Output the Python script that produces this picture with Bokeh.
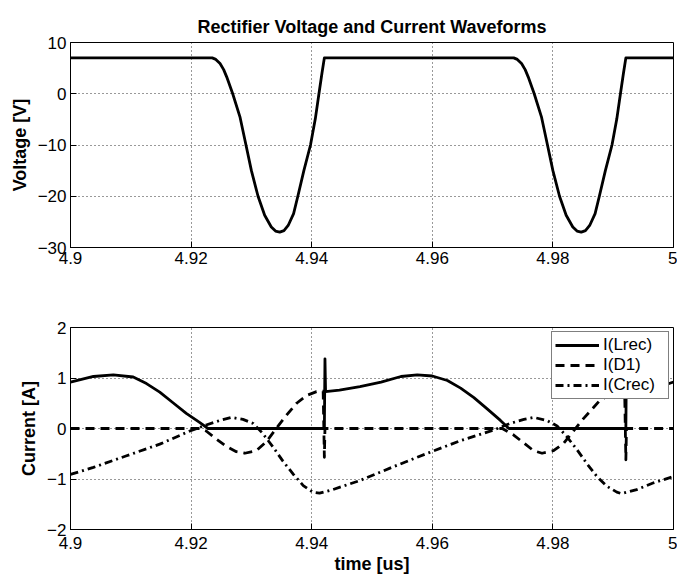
from bokeh.plotting import figure
from bokeh.layouts import column
from bokeh.models import Range1d, FixedTicker
from bokeh.embed import file_html
from bokeh.resources import INLINE

# ---------------- data ----------------
x_ticks = [4.9, 4.92, 4.94, 4.96, 4.98, 5.0]
x_tick_labels = ["4.9", "4.92", "4.94", "4.96", "4.98", "5"]
v_ticks = [-30, -20, -10, 0, 10]
v_tick_labels = ["\u221230", "\u221220", "\u221210", "0", "10"]
i_ticks = [-2, -1, 0, 1, 2]
i_tick_labels = ["\u22122", "\u22121", "0", "1", "2"]

volt_t = [4.9, 4.9235, 4.9241, 4.9248, 4.9254, 4.9259, 4.9269, 4.9281, 4.9291, 4.9300,
          4.9311, 4.9322, 4.9333, 4.9340, 4.9347, 4.9354, 4.9361, 4.9370, 4.9377, 4.9387,
          4.9398, 4.9406, 4.9412, 4.9417, 4.9421,
          4.9735, 4.9741, 4.9748, 4.9754, 4.9759, 4.9769, 4.9781, 4.9791, 4.9800,
          4.9811, 4.9822, 4.9833, 4.9840, 4.9847, 4.9854, 4.9861, 4.9870, 4.9877, 4.9887,
          4.9898, 4.9906, 4.9912, 4.9917, 4.9921, 5.0]
volt_v = [7.0, 7.0, 6.7, 5.9, 4.7, 3.3, 0.0, -4.5, -10.0, -15.0,
          -20.0, -23.7, -26.0, -26.8, -27.0, -26.7, -25.7, -23.4, -20.0, -15.0,
          -10.0, -4.9, 0.0, 4.0, 7.0,
          7.0, 6.7, 5.9, 4.7, 3.3, 0.0, -4.5, -10.0, -15.0,
          -20.0, -23.7, -26.0, -26.8, -27.0, -26.7, -25.7, -23.4, -20.0, -15.0,
          -10.0, -4.9, 0.0, 4.0, 7.0, 7.0]

lrec_t = [4.9, 4.9038, 4.9071, 4.9104, 4.9126, 4.9148, 4.917, 4.9192, 4.9214, 4.9228,
          4.9421, 4.9422, 4.9423, 4.9446, 4.948, 4.9515, 4.9548, 4.9575, 4.96, 4.9625,
          4.9647, 4.9669, 4.9691, 4.9713, 4.9727, 4.9921, 4.9922, 4.9923, 4.9946, 4.998, 5.0]
lrec_i = [0.92, 1.03, 1.06, 1.02, 0.89, 0.72, 0.51, 0.30, 0.12, 0.0,
          0.0, 1.38, 0.73, 0.76, 0.83, 0.92, 1.03, 1.06, 1.04, 0.95,
          0.80, 0.61, 0.39, 0.16, 0.0, 0.0, 1.38, 0.73, 0.76, 0.84, 0.92]

d1_t = [4.9, 4.9214, 4.9225, 4.9242, 4.9259, 4.9275, 4.9289, 4.9308, 4.9325, 4.9341,
        4.9358, 4.9375, 4.9391, 4.9408, 4.9419, 4.9421, 4.9422, 4.9716, 4.9735, 4.9752,
        4.9768, 4.9782, 4.9801, 4.9818, 4.9834, 4.9851, 4.9867, 4.9878, 4.9895, 4.9908,
        4.9919, 4.9921, 4.9922, 5.0]
d1_i = [0.0, 0.0, -0.05, -0.21, -0.36, -0.46, -0.49, -0.44, -0.26, 0.0,
        0.26, 0.50, 0.65, 0.73, 0.74, -0.57, 0.0, 0.0, -0.13, -0.29,
        -0.44, -0.49, -0.44, -0.29, -0.05, 0.20, 0.41, 0.56, 0.66, 0.72,
        0.74, -0.62, 0.0, 0.0]

crec_t = [4.9, 4.9038, 4.9093, 4.9148, 4.9198, 4.9225, 4.9248, 4.9267, 4.9286, 4.9303,
          4.9319, 4.9336, 4.9352, 4.9369, 4.9386, 4.9402, 4.9413, 4.9435, 4.948, 4.9537,
          4.9592, 4.9647, 4.9702, 4.9729, 4.9752, 4.9768, 4.979, 4.9807, 4.9823, 4.984,
          4.9856, 4.9873, 4.9889, 4.9906, 4.9914, 4.9939, 4.9966, 5.0]
crec_i = [-0.91, -0.77, -0.54, -0.31, -0.05, 0.07, 0.16, 0.22, 0.18, 0.10,
          -0.10, -0.37, -0.64, -0.90, -1.13, -1.26, -1.28, -1.21, -1.03, -0.75,
          -0.49, -0.24, -0.03, 0.10, 0.18, 0.22, 0.16, 0.05, -0.16, -0.42,
          -0.69, -0.95, -1.14, -1.26, -1.29, -1.21, -1.08, -0.95]

FONT = "Liberation Sans, Arial, Helvetica, sans-serif"
LW = 2.8


def style(p, yticks, ylabels):
    p.outline_line_color = "black"
    p.outline_line_width = 1
    p.background_fill_color = "white"
    p.border_fill_color = "white"
    for ax in p.xaxis:
        ax.ticker = FixedTicker(ticks=x_ticks)
        ax.major_label_overrides = dict(zip(x_ticks, x_tick_labels))
    for ax in p.yaxis:
        ax.ticker = FixedTicker(ticks=yticks)
        ax.major_label_overrides = dict(zip(yticks, ylabels))
    for ax in p.xaxis + p.yaxis:
        ax.major_tick_in = 6
        ax.major_tick_out = 0
        ax.minor_tick_in = 0
        ax.minor_tick_out = 0
        ax.major_tick_line_color = "black"
        ax.axis_line_color = "black"
        ax.major_label_text_font = FONT
        ax.major_label_text_font_size = "17px"
        ax.major_label_text_color = "black"
        ax.major_label_standoff = 4
        ax.axis_label_text_font = FONT
        ax.axis_label_text_font_size = "18px"
        ax.axis_label_text_font_style = "bold"
        ax.axis_label_text_color = "black"
        ax.axis_label_standoff = 5
    for g in p.xgrid + p.ygrid:
        g.grid_line_color = "black"
        g.grid_line_alpha = 0.8
        g.grid_line_dash = "1 3"
        g.grid_line_width = 1
    p.xgrid.ticker = FixedTicker(ticks=x_ticks)
    p.ygrid.ticker = FixedTicker(ticks=yticks)


p1 = figure(width=677, height=290, x_range=Range1d(4.9, 5.0), y_range=Range1d(-30, 10),
            output_backend="svg", toolbar_location=None,
            min_border_left=70, min_border_right=4, min_border_top=42, min_border_bottom=43,
            title="Rectifier Voltage and Current Waveforms")
p1.title.text_font = FONT
p1.title.text_font_size = "18px"
p1.title.text_font_style = "bold"
p1.title.text_color = "black"
p1.title.align = "center"
p1.title.standoff = 11
p1.yaxis.axis_label = "Voltage [V]"
style(p1, v_ticks, v_tick_labels)
p1.line(volt_t, volt_v, line_color="black", line_width=LW, line_join="round")

p2 = figure(width=677, height=286, x_range=Range1d(4.9, 5.0), y_range=Range1d(-2, 2),
            output_backend="svg", toolbar_location=None,
            min_border_left=70, min_border_right=4, min_border_top=37, min_border_bottom=46)
p2.yaxis.axis_label = "Current [A]"
p2.xaxis.axis_label = "time [us]"
style(p2, i_ticks, i_tick_labels)
p2.xaxis[0].major_label_standoff = 7
p2.xaxis[0].axis_label_standoff = 2
p2.line(lrec_t, lrec_i, line_color="black", line_width=LW, line_join="round",
        legend_label="I(Lrec)")
p2.line(d1_t, d1_i, line_color="black", line_width=LW, line_join="round",
        line_dash="9 6", legend_label="I(D1)")
p2.line(crec_t, crec_i, line_color="black", line_width=LW, line_join="round",
        line_dash="8 4 2 4", legend_label="I(Crec)")

lg = p2.legend[0]
lg.location = "top_right"
lg.margin = 4
lg.padding = 3
lg.spacing = 0
lg.glyph_width = 44
lg.glyph_height = 20
lg.label_height = 20
lg.label_width = 62
lg.label_standoff = 4
lg.label_text_font = FONT
lg.label_text_font_size = "17px"
lg.label_text_color = "black"
lg.border_line_color = "black"
lg.border_line_width = 1
lg.background_fill_color = "white"
lg.background_fill_alpha = 1.0

layout = column(p1, p2, spacing=0)

open("out.html", "w").write(file_html(layout, INLINE))
